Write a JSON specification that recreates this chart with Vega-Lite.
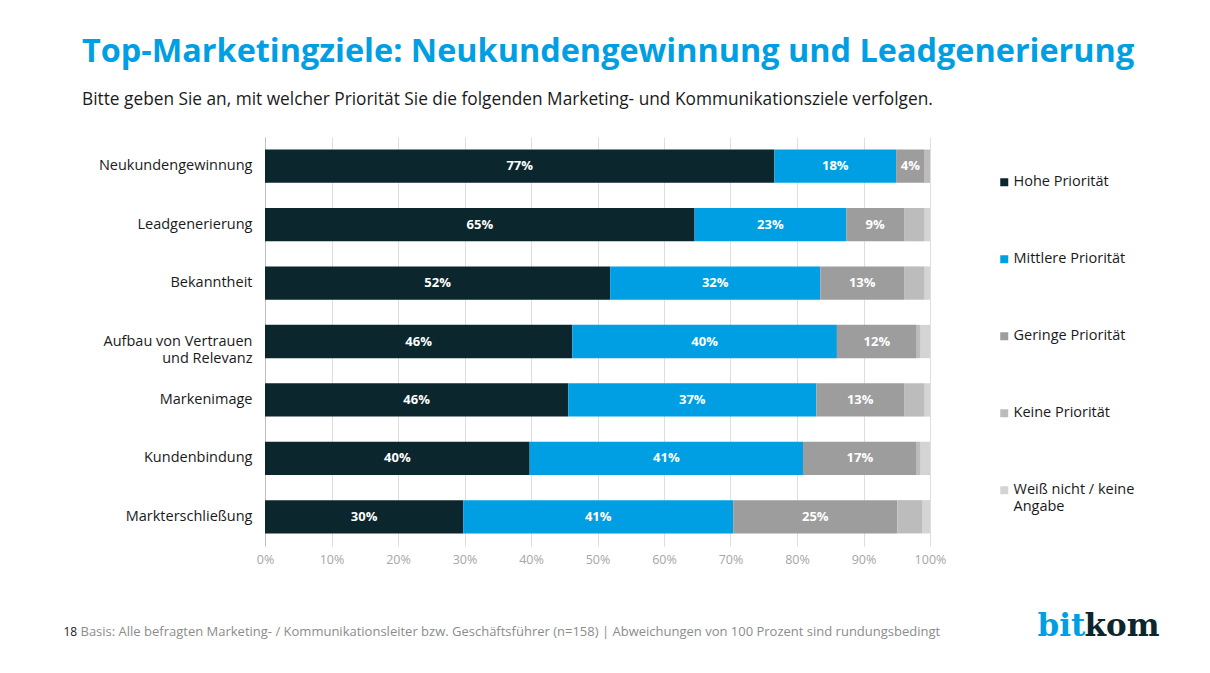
{
  "$schema": "https://vega.github.io/schema/vega-lite/v6.json",
  "width": 665,
  "height": 409,
  "autosize": {"type": "none"},
  "padding": {"left": 265, "top": 137, "right": 280, "bottom": 127},
  "background": "white",
  "config": {
    "font": "Open Sans",
    "view": {"stroke": null}
  },
  "title": {
    "text": "Top-Marketingziele: Neukundengewinnung und Leadgenerierung",
    "subtitle": "Bitte geben Sie an, mit welcher Priorität Sie die folgenden Marketing- und Kommunikationsziele verfolgen.",
    "anchor": "start",
    "frame": "group",
    "dx": -183,
    "offset": 29,
    "font": "Open Sans",
    "fontSize": 32.4,
    "fontWeight": "bold",
    "color": "#009fe3",
    "subtitleFont": "Open Sans",
    "subtitleFontSize": 17.3,
    "subtitleColor": "#1a1a1a",
    "subtitlePadding": 22
  },
  "data": {
    "values": [
      {"cat": "Neukundengewinnung", "prio": "Hohe Priorität", "order": 1, "value": 0.766},
      {"cat": "Neukundengewinnung", "prio": "Mittlere Priorität", "order": 2, "value": 0.183},
      {"cat": "Neukundengewinnung", "prio": "Geringe Priorität", "order": 3, "value": 0.043},
      {"cat": "Neukundengewinnung", "prio": "Keine Priorität", "order": 4, "value": 0.008},
      {"cat": "Neukundengewinnung", "prio": "Weiß nicht / keine Angabe", "order": 5, "value": 0},
      {"cat": "Leadgenerierung", "prio": "Hohe Priorität", "order": 1, "value": 0.646},
      {"cat": "Leadgenerierung", "prio": "Mittlere Priorität", "order": 2, "value": 0.228},
      {"cat": "Leadgenerierung", "prio": "Geringe Priorität", "order": 3, "value": 0.087},
      {"cat": "Leadgenerierung", "prio": "Keine Priorität", "order": 4, "value": 0.031},
      {"cat": "Leadgenerierung", "prio": "Weiß nicht / keine Angabe", "order": 5, "value": 0.008},
      {"cat": "Bekanntheit", "prio": "Hohe Priorität", "order": 1, "value": 0.519},
      {"cat": "Bekanntheit", "prio": "Mittlere Priorität", "order": 2, "value": 0.316},
      {"cat": "Bekanntheit", "prio": "Geringe Priorität", "order": 3, "value": 0.126},
      {"cat": "Bekanntheit", "prio": "Keine Priorität", "order": 4, "value": 0.031},
      {"cat": "Bekanntheit", "prio": "Weiß nicht / keine Angabe", "order": 5, "value": 0.008},
      {"cat": "Aufbau von Vertrauen und Relevanz", "prio": "Hohe Priorität", "order": 1, "value": 0.462},
      {"cat": "Aufbau von Vertrauen und Relevanz", "prio": "Mittlere Priorität", "order": 2, "value": 0.398},
      {"cat": "Aufbau von Vertrauen und Relevanz", "prio": "Geringe Priorität", "order": 3, "value": 0.120},
      {"cat": "Aufbau von Vertrauen und Relevanz", "prio": "Keine Priorität", "order": 4, "value": 0.006},
      {"cat": "Aufbau von Vertrauen und Relevanz", "prio": "Weiß nicht / keine Angabe", "order": 5, "value": 0.014},
      {"cat": "Markenimage", "prio": "Hohe Priorität", "order": 1, "value": 0.456},
      {"cat": "Markenimage", "prio": "Mittlere Priorität", "order": 2, "value": 0.373},
      {"cat": "Markenimage", "prio": "Geringe Priorität", "order": 3, "value": 0.132},
      {"cat": "Markenimage", "prio": "Keine Priorität", "order": 4, "value": 0.031},
      {"cat": "Markenimage", "prio": "Weiß nicht / keine Angabe", "order": 5, "value": 0.008},
      {"cat": "Kundenbindung", "prio": "Hohe Priorität", "order": 1, "value": 0.398},
      {"cat": "Kundenbindung", "prio": "Mittlere Priorität", "order": 2, "value": 0.411},
      {"cat": "Kundenbindung", "prio": "Geringe Priorität", "order": 3, "value": 0.171},
      {"cat": "Kundenbindung", "prio": "Keine Priorität", "order": 4, "value": 0.006},
      {"cat": "Kundenbindung", "prio": "Weiß nicht / keine Angabe", "order": 5, "value": 0.014},
      {"cat": "Markterschließung", "prio": "Hohe Priorität", "order": 1, "value": 0.298},
      {"cat": "Markterschließung", "prio": "Mittlere Priorität", "order": 2, "value": 0.406},
      {"cat": "Markterschließung", "prio": "Geringe Priorität", "order": 3, "value": 0.247},
      {"cat": "Markterschließung", "prio": "Keine Priorität", "order": 4, "value": 0.037},
      {"cat": "Markterschließung", "prio": "Weiß nicht / keine Angabe", "order": 5, "value": 0.012}
    ]
  },
  "transform": [
    {"stack": "value", "groupby": ["cat"], "sort": [{"field": "order", "order": "ascending"}], "as": ["x0", "x1"]}
  ],
  "layer": [
    {
      "mark": {"type": "bar"},
      "encoding": {
        "x": {
          "field": "x0",
          "type": "quantitative",
          "scale": {"domain": [0, 1]},
          "axis": {
            "values": [0, 0.1, 0.2, 0.3, 0.4, 0.5, 0.6, 0.7, 0.8, 0.9, 1],
            "format": ".0%",
            "labelFlush": false,
            "labelFont": "Open Sans",
            "labelFontSize": 12.5,
            "labelColor": "#a6a6a6",
            "labelPadding": 7,
            "grid": true,
            "gridColor": "#dedede",
            "ticks": false,
            "domain": false,
            "title": "Basis: Alle befragten Marketing- / Kommunikationsleiter bzw. Geschäftsführer (n=158) | Abweichungen von 100 Prozent sind rundungsbedingt",
            "titleFont": "Open Sans",
            "titleFontSize": 13,
            "titleFontWeight": "normal",
            "titleColor": "#8c8c8c",
            "titleAnchor": "start",
            "titleAlign": "left",
            "titleBaseline": "middle",
            "titleX": -185,
            "titleY": 85
          }
        },
        "x2": {"field": "x1"},
        "color": {
          "field": "prio",
          "type": "nominal",
          "scale": {
            "domain": ["Hohe Priorität", "Mittlere Priorität", "Geringe Priorität", "Keine Priorität", "Weiß nicht / keine Angabe"],
            "range": ["#0b262c", "#009fe3", "#9d9d9d", "#bcbcbc", "#d4d4d4"]
          },
          "legend": {
            "title": null,
            "orient": "none",
            "legendX": 732,
            "legendY": 38,
            "symbolType": "square",
            "symbolSize": 64,
            "symbolStrokeWidth": 0,
            "labelFont": "Open Sans",
            "labelFontSize": 14.5,
            "labelColor": "#1a1a1a",
            "labelOffset": 2,
            "labelLimit": 300,
            "labelLineHeight": 18,
            "rowPadding": 62,
            "labelExpr": "datum.label == 'Weiß nicht / keine Angabe' ? ['Weiß nicht / keine', 'Angabe'] : datum.label"
          }
        },
        "y": {
          "field": "cat",
          "type": "nominal",
          "sort": ["Neukundengewinnung", "Leadgenerierung", "Bekanntheit", "Aufbau von Vertrauen und Relevanz", "Markenimage", "Kundenbindung", "Markterschließung"],
          "scale": {"paddingInner": 0.43, "paddingOuter": 0.215},
          "axis": {
            "labelFont": "Open Sans",
            "labelFontSize": 14.5,
            "labelColor": "#1a1a1a",
            "labelPadding": 13,
            "labelLineHeight": 17,
            "labelLimit": 300,
            "ticks": false,
            "domain": true,
            "domainColor": "#bfbfbf",
            "labelExpr": "datum.value == 'Aufbau von Vertrauen und Relevanz' ? ['Aufbau von Vertrauen', 'und Relevanz'] : datum.value",
            "title": "18",
            "titleFont": "Open Sans",
            "titleFontSize": 12,
            "titleFontWeight": "normal",
            "titleColor": "#1a1a1a",
            "titleAngle": 0,
            "titleAlign": "left",
            "titleBaseline": "middle",
            "titleX": -202,
            "titleY": 494
          }
        }
      }
    },
    {
      "transform": [
        {"filter": "datum.order <= 3"},
        {"fold": ["x0", "x1"], "as": ["edge", "pos"]},
        {"aggregate": [{"op": "mean", "field": "pos", "as": "mid"}, {"op": "max", "field": "value", "as": "value"}], "groupby": ["cat", "prio"]}
      ],
      "mark": {"type": "text", "font": "Open Sans", "fontSize": 13, "fontWeight": "bold", "color": "white", "baseline": "middle", "align": "center"},
      "encoding": {
        "x": {
          "field": "mid",
          "type": "quantitative",
          "axis": {
            "orient": "top",
            "labels": false,
            "ticks": false,
            "domain": false,
            "grid": false,
            "title": "bit",
            "titleFont": "DejaVu Serif",
            "titleFontSize": 31,
            "titleFontWeight": "bold",
            "titleColor": "#009fe3",
            "titleAlign": "left",
            "titleBaseline": "alphabetic",
            "titleX": 772,
            "titleY": 498
          }
        },
        "y": {
          "field": "cat",
          "type": "nominal",
          "sort": ["Neukundengewinnung", "Leadgenerierung", "Bekanntheit", "Aufbau von Vertrauen und Relevanz", "Markenimage", "Kundenbindung", "Markterschließung"],
          "axis": {
            "orient": "right",
            "labels": false,
            "ticks": false,
            "domain": false,
            "grid": false,
            "title": "kom",
            "titleFont": "DejaVu Serif",
            "titleFontSize": 31,
            "titleFontWeight": "bold",
            "titleColor": "#0b262c",
            "titleAngle": 0,
            "titleAlign": "left",
            "titleBaseline": "alphabetic",
            "titleX": 154,
            "titleY": 498
          }
        },
        "text": {"field": "value", "type": "quantitative", "format": ".0%"}
      }
    }
  ],
  "resolve": {"axis": {"x": "independent", "y": "independent"}}
}
